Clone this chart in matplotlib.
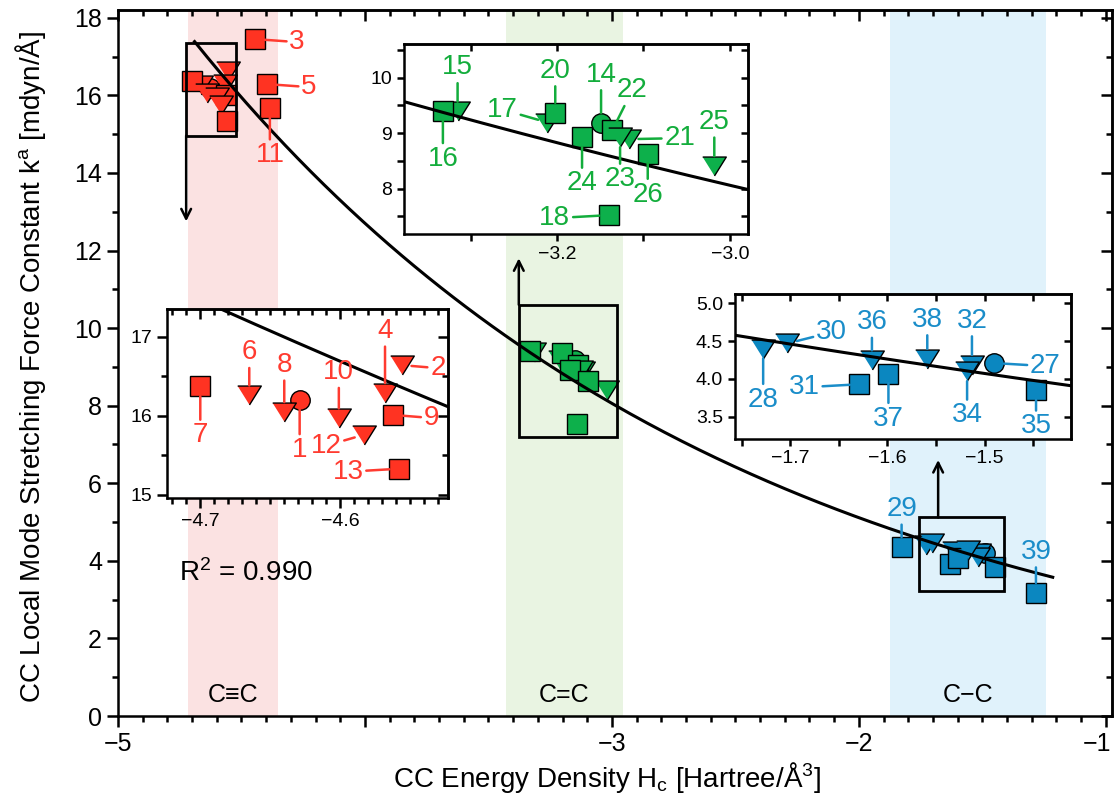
import numpy as np
import matplotlib
matplotlib.use('Agg')
import matplotlib.pyplot as plt
import matplotlib.transforms as mtransforms
from matplotlib.patches import Rectangle
from matplotlib.ticker import MultipleLocator, FuncFormatter, NullFormatter, NullLocator

plt.rcParams['font.family'] = ['Liberation Sans', 'DejaVu Sans']
plt.rcParams['mathtext.default'] = 'regular'

# ---- values ----
# C≡C bonds (red)
red_id = [1, 2, 3, 4, 5, 6, 7, 8, 9, 10, 11, 12, 13]
red_h = [-4.629, -4.556, -4.445, -4.568, -4.397, -4.665, -4.700, -4.640, -4.562, -4.601, -4.385, -4.583, -4.558]
red_k = [16.20, 16.64, 17.45, 16.29, 16.29, 16.26, 16.37, 16.05, 16.01, 15.97, 15.67, 15.76, 15.33]
red_mk = ['o', 'v', 's', 'v', 's', 'v', 's', 'v', 's', 'v', 's', 'v', 's']

# C=C bonds (green)
green_id = [14, 15, 16, 17, 18, 20, 21, 22, 23, 24, 25, 26]
green_h = [-3.149, -3.315, -3.332, -3.211, -3.140, -3.202, -3.117, -3.136, -3.127, -3.171, -3.018, -3.095]
green_k = [9.19, 9.39, 9.40, 9.19, 7.52, 9.37, 8.89, 9.05, 8.92, 8.92, 8.41, 8.63]
green_mk = ['o', 'v', 's', 'v', 's', 's', 'v', 's', 'v', 's', 'v', 's']

# C-C bonds (blue)
blue_id = [27, 28, 29, 30, 31, 32, 34, 35, 36, 37, 38, 39]
blue_h = [-1.490, -1.728, -1.827, -1.703, -1.629, -1.513, -1.518, -1.447, -1.616, -1.599, -1.559, -1.283]
blue_k = [4.21, 4.40, 4.36, 4.47, 3.93, 4.19, 4.10, 3.85, 4.25, 4.07, 4.27, 3.18]
blue_mk = ['o', 'v', 's', 'v', 's', 'v', 'v', 's', 'v', 's', 'v', 's']

# exponential fit k = a * exp(-b * H)
fit_a, fit_b = 2.058, 0.455
fit_lo, fit_hi = -4.69, -1.215
r2 = 0.990

bond_names = ['C\u2261C', 'C=C', 'C\u2212C']
bond_spans = [(-4.717, -4.352), (-3.429, -2.955), (-1.874, -1.243)]

# zoomed windows (x range, y range)
red_zoom = ((-4.724, -4.523), (14.96, 17.35))
green_zoom = ((-3.377, -2.979), (7.18, 10.6))
blue_zoom = ((-1.757, -1.411), (3.214, 5.118))

# ---- styling / layout ----
RED, GREEN, BLUE = '#ff3322', '#0db04b', '#0b87c0'
RED_T, GREEN_T, BLUE_T = '#ff3b30', '#13ad3c', '#1a8dc9'
BANDS = ['#fbe2e2', '#e9f4e2', '#e0f2fb']
TRI = [(-1, 0.8), (1, 0.8), (0, -0.8)]
SHAPES = {'o': ('o', 14), 's': ('s', 14.5), 'v': (TRI, 17)}

# label offsets in pixels (dx, dy) from the marker
offs = {1: (0, -47), 2: (36, 0), 3: (42, 0), 4: (0, 65), 5: (42, 0), 6: (0, 46),
        7: (0, -46), 8: (0, 50), 9: (38, 0), 10: (0, 49), 11: (0, -44), 12: (-38, -8),
        13: (-51, 0),
        14: (0, 51), 15: (0, 47), 16: (0, -45), 17: (-45, 16), 18: (-54, 0), 20: (0, 45),
        21: (51, 4), 22: (20, 43), 23: (0, -39), 24: (0, -43), 25: (0, 47), 26: (0, -38),
        27: (51, 0), 28: (0, -48), 29: (0, 41), 30: (44, 14), 31: (-55, 0), 32: (0, 47),
        34: (0, -41), 35: (0, -33), 36: (0, 41), 37: (0, -42), 38: (0, 42), 39: (0, 44)}
on_main = {3, 5, 11, 29, 39}


def fmt(d):
    return FuncFormatter(lambda v, p: f'{v:.{d}f}'.replace('-', '\u2212'))


def frame(ax, xmaj, xmin, ymaj, ymin, lmaj, lmin, lw, fs):
    ax.xaxis.set_major_locator(MultipleLocator(xmaj))
    ax.yaxis.set_major_locator(MultipleLocator(ymaj))
    ax.xaxis.set_minor_locator(MultipleLocator(xmin) if xmin else NullLocator())
    ax.yaxis.set_minor_locator(MultipleLocator(ymin) if ymin else NullLocator())
    ax.tick_params(which='major', direction='out', length=lmaj, width=lw, labelsize=fs)
    ax.tick_params(which='minor', direction='out', length=lmin, width=lw)
    for sp in ax.spines.values():
        sp.set_linewidth(lw)
    top = ax.secondary_xaxis('top')
    right = ax.secondary_yaxis('right')
    for sec, axis, maj, mn in ((top, top.xaxis, xmaj, xmin), (right, right.yaxis, ymaj, ymin)):
        axis.set_major_locator(MultipleLocator(maj))
        axis.set_minor_locator(MultipleLocator(mn) if mn else NullLocator())
        axis.set_major_formatter(NullFormatter())
        sec.tick_params(which='major', direction='in', length=lmaj, width=lw)
        sec.tick_params(which='minor', direction='in', length=lmin, width=lw)
        for sp in sec.spines.values():
            sp.set_linewidth(lw)


def draw_points(ax, hs, ks, mks, fill):
    for h, k, m in zip(hs, ks, mks):
        shape, ms = SHAPES[m]
        ax.plot(h, k, marker=shape, ms=ms, mfc=fill, mec='k', mew=1.0,
                ls='none', zorder=3)


def label_points(ax, ids, hs, ks, col, keep):
    for i, h, k in zip(ids, hs, ks):
        if not keep(i):
            continue
        ax.annotate(str(i), xy=(h, k), xytext=offs[i], textcoords='offset pixels',
                    ha='center', va='center_baseline', fontsize=20, color=col,
                    annotation_clip=False, zorder=6,
                    arrowprops=dict(arrowstyle='-', color=col, lw=1.8,
                                    shrinkA=0, shrinkB=7))


def draw_fit(ax, lo, hi):
    hh = np.linspace(max(lo, fit_lo), min(hi, fit_hi), 200)
    ax.plot(hh, fit_a * np.exp(-fit_b * hh), color='k', lw=2.2, zorder=4)


fig = plt.figure(figsize=(11.16, 7.99), dpi=100)
ax = fig.add_axes([118 / 1116, 83 / 799, 994 / 1116, 706 / 799])
ax.set_xlim(-5, -0.975)
ax.set_ylim(0, 18.2)

for (a, b), c in zip(bond_spans, BANDS):
    ax.axvspan(a, b, color=c, lw=0, zorder=0)
for (a, b), name in zip(bond_spans, bond_names):
    ax.text((a + b) / 2, 0.55, name, ha='center', va='center', fontsize=18)

draw_points(ax, red_h, red_k, red_mk, RED)
draw_points(ax, green_h, green_k, green_mk, GREEN)
draw_points(ax, blue_h, blue_k, blue_mk, BLUE)
draw_fit(ax, -5, -1)
label_points(ax, red_id, red_h, red_k, RED_T, lambda i: i in on_main)
label_points(ax, blue_id, blue_h, blue_k, BLUE_T, lambda i: i in on_main)

for (xl, yl) in (red_zoom, green_zoom, blue_zoom):
    ax.add_patch(Rectangle((xl[0], yl[0]), xl[1] - xl[0], yl[1] - yl[0],
                           fill=False, ec='k', lw=2, zorder=5))
arrow = dict(arrowstyle='->, head_length=0.7, head_width=0.35', color='k', lw=1.8,
             shrinkA=0, shrinkB=0)
ax.annotate('', xy=(red_zoom[0][0], 12.75), xytext=(red_zoom[0][0], red_zoom[1][0]), arrowprops=arrow)
ax.annotate('', xy=(green_zoom[0][0], 11.8), xytext=(green_zoom[0][0], green_zoom[1][1]), arrowprops=arrow)
ax.annotate('', xy=(-1.679, 6.6), xytext=(-1.679, blue_zoom[1][1]), arrowprops=arrow)

ax.text(-4.753, 3.69, f'R$^2$ = {r2:.3f}', fontsize=20, va='center', ha='left')

frame(ax, 1, 0.1, 2, 1, 8, 4, 1.8, 18)
ax.set_xticks([-5, -4, -3, -2, -1])
ax.set_xticklabels(['\u22125', '', '\u22123', '\u22122', '\u22121'])
# nudge the last tick label so it stays inside the canvas
last = ax.get_xticklabels()[-1]
last.set_transform(last.get_transform() +
                   mtransforms.ScaledTranslation(-6 / 72, 0, fig.dpi_scale_trans))
ax.set_xlabel('CC Energy Density H$_c$ [Hartree/\u00c5$^3$]', fontsize=20)
ax.set_ylabel('CC Local Mode Stretching Force Constant k$^a$ [mdyn/\u00c5]', fontsize=20)
ax.xaxis.label.set_va('center')
ax.yaxis.label.set_va('center')
ax.xaxis.set_label_coords(0.492, -0.0872)
ax.yaxis.set_label_coords(-0.0885, 0.494)

# ---- insets ----
def px_axes(l, r, t, b):
    return fig.add_axes([l / 1116, 1 - b / 799, (r - l) / 1116, (b - t) / 799])

axr = px_axes(166.7, 448, 309, 498)
axg = px_axes(404, 748, 44.3, 234)
axb = px_axes(735, 1071, 294.3, 438.5)

for a, (xl, yl) in ((axr, red_zoom), (axg, green_zoom), (axb, blue_zoom)):
    a.set_xlim(*xl)
    a.set_ylim(*yl)
    a.set_facecolor('white')

draw_points(axr, red_h, red_k, red_mk, RED)
draw_fit(axr, *red_zoom[0])
label_points(axr, red_id, red_h, red_k, RED_T, lambda i: i not in on_main)
frame(axr, 0.1, 0.01, 1, 0.5, 7, 4, 1.8, 14)
axr.xaxis.set_major_formatter(fmt(1))
axr.yaxis.set_major_formatter(fmt(0))

draw_points(axg, green_h, green_k, green_mk, GREEN)
draw_fit(axg, *green_zoom[0])
label_points(axg, green_id, green_h, green_k, GREEN_T, lambda i: True)
frame(axg, 0.2, 0.1, 1, 0.5, 5, 5, 1.8, 14)
axg.xaxis.set_major_formatter(fmt(1))
axg.yaxis.set_major_formatter(fmt(0))

draw_points(axb, blue_h, blue_k, blue_mk, BLUE)
draw_fit(axb, *blue_zoom[0])
label_points(axb, blue_id, blue_h, blue_k, BLUE_T, lambda i: i not in on_main)
frame(axb, 0.1, 0.05, 0.5, None, 5, 5, 1.8, 14)
axb.xaxis.set_major_formatter(fmt(1))
axb.yaxis.set_major_formatter(fmt(1))

fig.savefig('out.png', dpi=100)
